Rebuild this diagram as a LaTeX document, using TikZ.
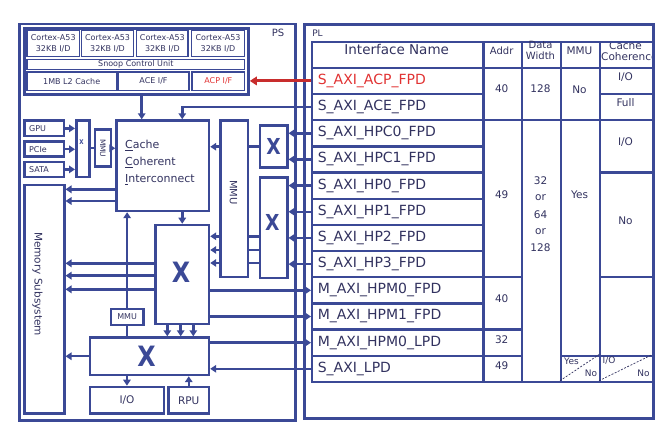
\documentclass[tikz,border=0pt]{standalone}
\usepackage{fontspec}
\setmainfont{DejaVu Sans}
\usetikzlibrary{arrows.meta}
\definecolor{navy}{RGB}{59,73,150}
\definecolor{txt}{RGB}{50,50,95}
\definecolor{redt}{RGB}{225,50,50}
\definecolor{reda}{RGB}{200,45,45}
\newcommand\fsz[2]{\fontsize{#1}{#2}\selectfont}
\newcommand\bigX{\scalebox{0.85}[1]{\bfseries X}}
\tikzset{
  bx/.style={draw=navy, line width=2.5pt, anchor=north west, inner sep=0pt, text=txt},
  ibx/.style={draw=navy, line width=1.4pt, anchor=north west, inner sep=0pt, text=txt, font=\fsz{8}{11}, align=center},
  cell/.style={draw=navy, line width=2.3pt, anchor=north west, inner sep=0pt},
  namecell/.style={cell, minimum width=171.3pt, minimum height=26.17pt, text width=160pt, align=left, font=\fsz{14}{16}, text=txt},
  ln/.style={draw=navy, line width=2.5pt},
  arr/.style={ln, -{Triangle[length=6pt,width=7.5pt]}},
  tx/.style={text=txt, inner sep=0pt},
  dat/.style={tx, font=\fsz{10.5}{12}},
  bigx/.style={text=navy, inner sep=0pt, font=\fsz{28}{30}},
  midx/.style={text=navy, inner sep=0pt, font=\fsz{22}{24}},
  diag/.style={draw=txt, line width=0.7pt, dash pattern=on 2pt off 1.5pt},
}
\begin{document}
\begin{tikzpicture}[x=1pt,y=-1pt]
\useasboundingbox (0,0) rectangle (667,430);
% ---------- outer boxes
\node[bx, line width=2.8pt, minimum width=276pt, minimum height=396.5pt] (ps) at (18.3,22.7) {};
\node[tx, font=\fsz{10}{12}] (pslbl) at (278,33) {PS};
\node[bx, line width=2.8pt, minimum width=349pt, minimum height=393.4pt] (pl) at (303.3,23.3) {};
\node[tx, font=\fsz{9}{11}] (pllbl) at (317.5,33.3) {PL};
% ---------- CPU cluster
\node[bx, line width=2.8pt, minimum width=224.3pt, minimum height=65.7pt] (cpu) at (22.7,27.3) {};
\foreach \x/\w [count=\i] in {26.3/52.4, 80.7/52.3, 136/51.3, 190.7/53.3}
  \node[ibx, minimum width=\w pt, minimum height=26pt] (core\i) at (\x,30) {Cortex-A53\\32KB I/D};
\node[ibx, minimum width=217.7pt, minimum height=10.4pt] (scu) at (26.3,58.6) {Snoop Control Unit};
\node[ibx, minimum width=89.4pt, minimum height=18.7pt] (l2) at (26.3,71.3) {1MB L2 Cache};
\node[ibx, minimum width=71pt, minimum height=18.7pt] (acei) at (117.3,71.3) {ACE I/F};
\node[ibx, minimum width=52.7pt, minimum height=18.7pt, text=redt] (acpi) at (191.3,71.3) {ACP I/F};
% ---------- left blocks
\node[bx, minimum width=39.7pt, minimum height=15.3pt, font=\fsz{8}{10}, text width=30pt, align=left] (gpu) at (23,119.5) {GPU};
\node[bx, minimum width=39.7pt, minimum height=15pt, font=\fsz{8}{10}, text width=30pt, align=left] (pcie) at (23,140.5) {PCIe};
\node[bx, minimum width=39.7pt, minimum height=15pt, font=\fsz{8}{10}, text width=30pt, align=left] (sata) at (23,160.7) {SATA};
\node[bx, minimum width=13pt, minimum height=56.5pt] (mux) at (75,119.5) {};
\node[text=navy, inner sep=0pt, font=\fsz{6.5}{7}] (muxx) at (81.5,142.5) {\bigX};
\node[bx, minimum width=16pt, minimum height=37pt] (vmmu) at (93.5,128.5) {};
\node[tx, rotate=-90, font=\fsz{7.5}{9}] (vmmut) at (vmmu.center) {MMU};
\node[bx, minimum width=92.4pt, minimum height=90.4pt] (cci) at (115.3,119.3) {};
\node[tx, anchor=base west, font=\fsz{11}{13}] (ccit1) at (125,149) {\underline{C}ache};
\node[tx, anchor=base west, font=\fsz{11}{13}] (ccit2) at (125,166) {\underline{C}oherent};
\node[tx, anchor=base west, font=\fsz{11}{13}] (ccit3) at (125,183) {\underline{I}nterconnect};
\node[bx, minimum width=27.4pt, minimum height=156.7pt] (bmmu) at (219.3,119.3) {};
\node[tx, rotate=-90, font=\fsz{10}{12}] (bmmut) at (233.5,192.5) {MMU};
\node[bx, minimum width=27.5pt, minimum height=42pt] (xu) at (258.5,124.5) {};
\node[midx] (xut) at (xu.center) {\bigX};
\node[bx, minimum width=27.5pt, minimum height=100.3pt] (xl) at (258.5,176.5) {};
\node[midx] (xlt) at (272.3,222) {\bigX};
\node[bx, minimum width=53.4pt, minimum height=99.3pt] (cx) at (154.3,223.7) {};
\node[bigx] (cxt) at (181,272.3) {\bigX};
\node[bx, minimum width=32.3pt, minimum height=16pt, font=\fsz{8}{10}] (smmu) at (109.7,307.7) {MMU};
\node[bx, minimum width=119pt, minimum height=37.4pt] (lx) at (88.7,336.3) {};
\node[bigx] (lxt) at (146.5,356.3) {\bigX};
\node[bx, minimum width=74pt, minimum height=26.6pt, font=\fsz{10.5}{12}] (io) at (88.7,385.7) {I/O};
\node[bx, minimum width=40.4pt, minimum height=26.6pt, font=\fsz{10.5}{12}] (rpu) at (167.3,385.7) {RPU};
\node[bx, minimum width=40pt, minimum height=228.6pt] (mem) at (23,183.7) {};
\node[tx, rotate=-90, font=\fsz{10.5}{12}] (memt) at (37.5,284) {Memory Subsystem};
% ---------- table
\node[cell, minimum width=171.3pt, minimum height=25.7pt] (hname) at (311,41) {};
\node[cell, minimum width=38.7pt, minimum height=25.7pt] (haddr) at (482.3,41) {};
\node[cell, minimum width=39pt, minimum height=25.7pt] (hdw) at (521,41) {};
\node[cell, minimum width=39pt, minimum height=25.7pt] (hmmu) at (560,41) {};
\begin{scope}
\clip (599,41) rectangle (652.3,66.7);
\node[tx, font=\fsz{10.5}{12}] (hcct1) at (625.5,46) {Cache};
\node[tx, font=\fsz{10.5}{12}, anchor=west] (hcct2) at (601,56.5) {Coherence};
\end{scope}
\node[cell, minimum width=53.3pt, minimum height=25.7pt] (hcc) at (599,41) {};
\node[tx, font=\fsz{13.5}{15}] (hnamet) at (396.7,49.5) {Interface Name};
\node[tx, font=\fsz{10}{12}] (haddrt) at (501.7,50.5) {Addr};
\node[tx, font=\fsz{10}{11}, align=center] (hdwt) at (540.5,50.3) {Data\\Width};
\node[tx, font=\fsz{10.5}{12}] (hmmut) at (579.5,50.3) {MMU};
% name cells
\node[namecell, text=redt] (acp) at (311,66.7) {S\_AXI\_ACP\_FPD};
\node[namecell] (ace) at (311,92.87) {S\_AXI\_ACE\_FPD};
\node[namecell] (hpc0) at (311,119.04) {S\_AXI\_HPC0\_FPD};
\node[namecell] (hpc1) at (311,145.21) {S\_AXI\_HPC1\_FPD};
\node[namecell] (hp0) at (311,171.38) {S\_AXI\_HP0\_FPD};
\node[namecell] (hp1) at (311,197.55) {S\_AXI\_HP1\_FPD};
\node[namecell] (hp2) at (311,223.72) {S\_AXI\_HP2\_FPD};
\node[namecell] (hp3) at (311,249.89) {S\_AXI\_HP3\_FPD};
\node[namecell] (hpm0f) at (311,276.06) {M\_AXI\_HPM0\_FPD};
\node[namecell] (hpm1f) at (311,302.23) {M\_AXI\_HPM1\_FPD};
\node[namecell] (hpm0l) at (311,328.4) {M\_AXI\_HPM0\_LPD};
\node[namecell] (lpd) at (311,354.57) {S\_AXI\_LPD};
% addr column
\node[cell, minimum width=38.7pt, minimum height=52.34pt] (a1) at (482.3,66.7) {};
\node[cell, minimum width=38.7pt, minimum height=157.02pt] (a2) at (482.3,119.04) {};
\node[cell, minimum width=38.7pt, minimum height=52.34pt] (a3) at (482.3,276.06) {};
\node[cell, minimum width=38.7pt, minimum height=26.17pt] (a4) at (482.3,328.4) {};
\node[cell, minimum width=38.7pt, minimum height=26.17pt] (a5) at (482.3,354.57) {};
% data width
\node[cell, minimum width=39pt, minimum height=52.34pt] (d1) at (521,66.7) {};
\node[cell, minimum width=39pt, minimum height=261.7pt] (d2) at (521,119.04) {};
% mmu
\node[cell, minimum width=39pt, minimum height=52.34pt] (m1) at (560,66.7) {};
\node[cell, minimum width=39pt, minimum height=235.53pt] (m2) at (560,119.04) {};
\node[cell, minimum width=39pt, minimum height=26.17pt] (m3) at (560,354.57) {};
% cache coherence
\node[cell, minimum width=53.3pt, minimum height=26.17pt] (c1) at (599,66.7) {};
\node[cell, minimum width=53.3pt, minimum height=26.17pt] (c2) at (599,92.87) {};
\node[cell, minimum width=53.3pt, minimum height=52.34pt] (c3) at (599,119.04) {};
\node[cell, minimum width=53.3pt, minimum height=104.68pt] (c4) at (599,171.38) {};
\node[cell, minimum width=53.3pt, minimum height=78.51pt] (c5) at (599,276.06) {};
\node[cell, minimum width=53.3pt, minimum height=26.17pt] (c6) at (599,354.57) {};
% diagonals
\draw[diag] (560,380.74) -- (599,354.57);
\draw[diag] (599,380.74) -- (652.3,354.57);
% data texts
\node[dat] (a1t) at (501.7,89) {40};
\node[dat] (a2t) at (501.7,195) {49};
\node[dat] (a3t) at (501.7,299) {40};
\node[dat] (a4t) at (501.7,339.3) {32};
\node[dat] (a5t) at (501.7,365.7) {49};
\node[dat] (d1t) at (540.5,88.7) {128};
\node[dat] (d2a) at (540.5,181) {32};
\node[dat] (d2b) at (540.5,197.7) {or};
\node[dat] (d2c) at (540.5,214.7) {64};
\node[dat] (d2d) at (540.5,231.3) {or};
\node[dat] (d2e) at (540.5,248) {128};
\node[dat] (m1t) at (579.5,90) {No};
\node[dat] (m2t) at (579.5,195) {Yes};
\node[tx, font=\fsz{9}{10}] (m3a) at (571.5,361) {Yes};
\node[tx, font=\fsz{9}{10}] (m3b) at (591,373) {No};
\node[dat] (c1t) at (625.5,77) {I/O};
\node[dat] (c2t) at (625.5,103) {Full};
\node[dat] (c3t) at (625.5,142.3) {I/O};
\node[dat] (c4t) at (625.5,221) {No};
\node[tx, font=\fsz{9}{10}] (c6a) at (609,361) {I/O};
\node[tx, font=\fsz{9}{10}] (c6b) at (643.5,373) {No};
% ---------- connectors
\draw[ln, draw=reda, line width=3pt, -{Triangle[length=7pt,width=8.5pt]}] (acp.west) -- (cpu.east |- acp.west);
\draw[arr] (ace.west) -| (cx.north |- cci.north);
\draw[arr] (cpu.south -| 141.7,0) -- (cci.north -| 141.7,0);
\draw[arr] (cci.south -| cx.north) -- (cx.north);
\draw[ln] (lx.north -| smmu.south) -- (smmu.south);
\draw[arr] (smmu.north) -- (cci.south -| smmu.north);
\foreach \x in {167.3,180.7,193.3} \draw[arr] (cx.south -| \x,0) -- (lx.north -| \x,0);
\draw[arr] (lx.south -| io.north) -- (io.north);
\draw[arr] (rpu.north) -- (lx.south -| rpu.north);
\draw[arr] (lx.west) -- (mem.east |- lx.west);
\foreach \y in {189.3,201} \draw[arr] (cci.west |- 0,\y) -- (mem.east |- 0,\y);
\foreach \y in {263.3,275.7,289.3} \draw[arr] (cx.west |- 0,\y) -- (mem.east |- 0,\y);
\foreach \n in {gpu,pcie,sata} \draw[arr] (\n.east) -- (mux.west |- \n.east);
\draw[ln] (mux.east |- vmmu.west) -- (vmmu.west);
\draw[arr] (vmmu.east) -- (cci.west |- vmmu.east);
\draw[ln] (xu.west) -- (bmmu.east |- xu.west);
\draw[arr] (bmmu.west |- xu.west) -- (cci.east |- xu.west);
\foreach \y in {236.3,250,263} {
  \draw[ln] (xl.west |- 0,\y) -- (bmmu.east |- 0,\y);
  \draw[arr] (bmmu.west |- 0,\y) -- (cx.east |- 0,\y);
}
\foreach \n in {hpc0,hpc1} \draw[arr] (\n.west) -- (xu.east |- \n.west);
\foreach \n in {hp0,hp1,hp2,hp3} \draw[arr] (\n.west) -- (xl.east |- \n.west);
\draw[arr] (cx.east |- hpm0f.west) -- (hpm0f.west);
\draw[arr] (cx.east |- hpm1f.west) -- (hpm1f.west);
\draw[arr] (lx.east |- hpm0l.west) -- (hpm0l.west);
\draw[arr] (lpd.west) -- (lx.east |- lpd.west);
\end{tikzpicture}
\end{document}
